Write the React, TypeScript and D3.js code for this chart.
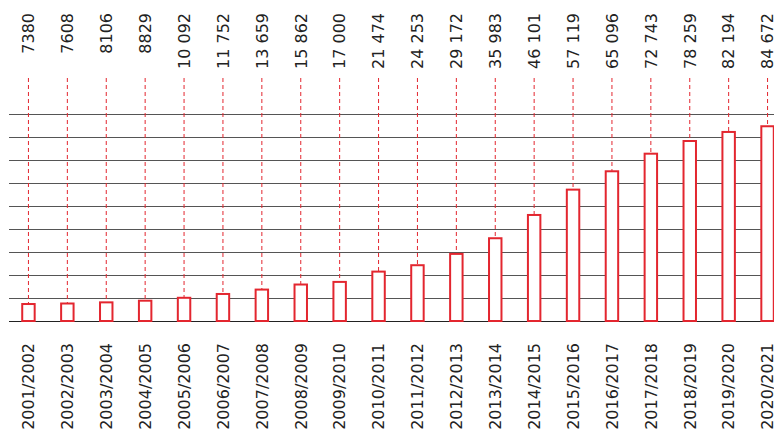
import { useEffect, useRef } from 'react';
import * as d3 from 'd3';

const years = [
  "2001/2002", "2002/2003", "2003/2004", "2004/2005", "2005/2006",
  "2006/2007", "2007/2008", "2008/2009", "2009/2010", "2010/2011",
  "2011/2012", "2012/2013", "2013/2014", "2014/2015", "2015/2016",
  "2016/2017", "2017/2018", "2018/2019", "2019/2020", "2020/2021"
];

const values = [
  7380, 7608, 8106, 8829, 10092, 11752, 13659, 15862, 17000, 21474,
  24253, 29172, 35983, 46101, 57119, 65096, 72743, 78259, 82194, 84672
];

const gridTicks = [0, 10000, 20000, 30000, 40000, 50000, 60000, 70000, 80000, 90000];

const RED = "#e3262f";

// 10092 -> "10 092"
const fmt = (v: number) => {
  const s = String(v);
  return s.length > 4 ? s.slice(0, s.length - 3) + " " + s.slice(-3) : s;
};

export default function App() {
  const svgRef = useRef<SVGSVGElement>(null);

  useEffect(() => {
    if (!svgRef.current) return;
    const width = 774;
    const height = 438;
    const svg = d3.select(svgRef.current);
    svg.selectAll("*").remove();
    svg.attr("width", width).attr("height", height);

    const x = d3.scaleBand()
      .domain(years)
      .range([9, 787])
      .paddingInner(0.68)
      .paddingOuter(0.34);

    const y = d3.scaleLinear()
      .domain([0, 90000])
      .range([321, 114]);

    const data = years.map((yr, i) => ({ yr, v: values[i] }));
    const cx = (d: { yr: string }) => (x(d.yr) as number) + x.bandwidth() / 2;

    // grid
    svg.append("g")
      .selectAll("line")
      .data(gridTicks)
      .enter()
      .append("line")
      .attr("x1", 9)
      .attr("x2", width)
      .attr("y1", d => Math.round(y(d)) + 0.5)
      .attr("y2", d => Math.round(y(d)) + 0.5)
      .attr("stroke", d => (d === 0 ? "#222" : "#555"))
      .attr("stroke-width", 1);

    // dashed leaders
    svg.append("g")
      .selectAll("line")
      .data(data)
      .enter()
      .append("line")
      .attr("x1", d => cx(d))
      .attr("x2", d => cx(d))
      .attr("y1", 78)
      .attr("y2", d => y(d.v))
      .attr("stroke", RED)
      .attr("stroke-width", 1)
      .attr("stroke-dasharray", "4,3");

    // bars
    svg.append("g")
      .selectAll("rect")
      .data(data)
      .enter()
      .append("rect")
      .attr("x", d => x(d.yr) as number)
      .attr("width", x.bandwidth())
      .attr("y", d => y(d.v))
      .attr("height", d => y(0) - y(d.v))
      .attr("fill", "#fff")
      .attr("stroke", RED)
      .attr("stroke-width", 2);

    // value labels
    svg.append("g")
      .selectAll("text")
      .data(data)
      .enter()
      .append("text")
      .attr("transform", d => `translate(${cx(d)},13) rotate(-90)`)
      .attr("dy", "0.36em")
      .attr("text-anchor", "end")
      .attr("fill", "#222")
      .style("font-family", "DejaVu Sans")
      .style("font-size", "16px")
      .text(d => fmt(d.v));

    // category labels
    svg.append("g")
      .selectAll("text")
      .data(data)
      .enter()
      .append("text")
      .attr("transform", d => `translate(${cx(d)},343) rotate(-90)`)
      .attr("dy", "0.36em")
      .attr("text-anchor", "end")
      .attr("fill", "#222")
      .style("font-family", "DejaVu Sans")
      .style("font-size", "16px")
      .text(d => d.yr);
  }, []);

  return (
    <svg
      ref={svgRef}
      style={{ position: "absolute", left: 0, top: 0, background: "#fff", display: "block" }}
    />
  );
}
